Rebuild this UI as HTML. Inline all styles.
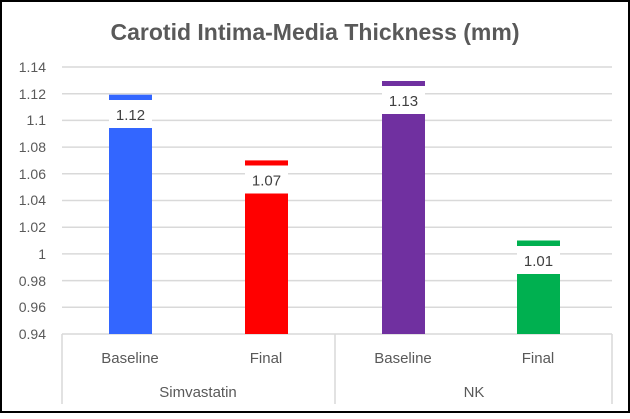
<!DOCTYPE html>
<html><head><style>
body{margin:0;background:#fff}
</style></head><body>
<svg width="630" height="414" xmlns="http://www.w3.org/2000/svg" font-family="'Liberation Sans', sans-serif">
<rect x="1" y="1" width="628" height="411" fill="#fff" stroke="#000" stroke-width="2"/>
<text x="315" y="40" text-anchor="middle" font-size="23" font-weight="bold" fill="#595959">Carotid Intima-Media Thickness (mm)</text>
<g stroke="#d9d9d9" stroke-width="1.5">
<line x1="62" x2="612" y1="67" y2="67"/><line x1="62" x2="612" y1="93.7" y2="93.7"/>
<line x1="62" x2="612" y1="120.4" y2="120.4"/><line x1="62" x2="612" y1="147.1" y2="147.1"/>
<line x1="62" x2="612" y1="173.8" y2="173.8"/><line x1="62" x2="612" y1="200.5" y2="200.5"/>
<line x1="62" x2="612" y1="227.2" y2="227.2"/><line x1="62" x2="612" y1="253.9" y2="253.9"/>
<line x1="62" x2="612" y1="280.6" y2="280.6"/><line x1="62" x2="612" y1="307.3" y2="307.3"/>
<line x1="62" x2="612" y1="334" y2="334"/>
<line x1="62" x2="62" y1="334" y2="404"/><line x1="335" x2="335" y1="334" y2="404"/><line x1="612" x2="612" y1="334" y2="404"/>
</g>
<g font-size="14" fill="#595959" text-anchor="end">
<text x="46" y="72">1.14</text><text x="46" y="99">1.12</text><text x="46" y="125">1.1</text>
<text x="46" y="152">1.08</text><text x="46" y="179">1.06</text><text x="46" y="205">1.04</text>
<text x="46" y="232">1.02</text><text x="46" y="259">1</text><text x="46" y="286">0.98</text>
<text x="46" y="312">0.96</text><text x="46" y="339">0.94</text>
</g>
<rect x="109" y="94.7" width="43" height="239.3" fill="#3366ff"/>
<rect x="245" y="160.4" width="43" height="173.6" fill="#ff0000"/>
<rect x="382" y="81" width="43" height="253" fill="#7030a0"/>
<rect x="517" y="240.5" width="43" height="93.5" fill="#00b050"/>
<g fill="#fff">
<rect x="109" y="100" width="43" height="28"/><rect x="245" y="165.5" width="43" height="28"/>
<rect x="382" y="86" width="43" height="28"/><rect x="517" y="246" width="43" height="28"/>
</g>
<g font-size="15" fill="#404040" text-anchor="middle">
<text x="130.5" y="120">1.12</text><text x="266.5" y="185.5">1.07</text>
<text x="403.5" y="106">1.13</text><text x="538.5" y="266">1.01</text>
</g>
<g font-size="15" fill="#595959" text-anchor="middle">
<text x="130" y="363">Baseline</text><text x="266" y="363">Final</text>
<text x="403" y="363">Baseline</text><text x="538" y="363">Final</text>
<text x="198" y="397">Simvastatin</text><text x="474" y="397">NK</text>
</g>
</svg>
</body></html>
